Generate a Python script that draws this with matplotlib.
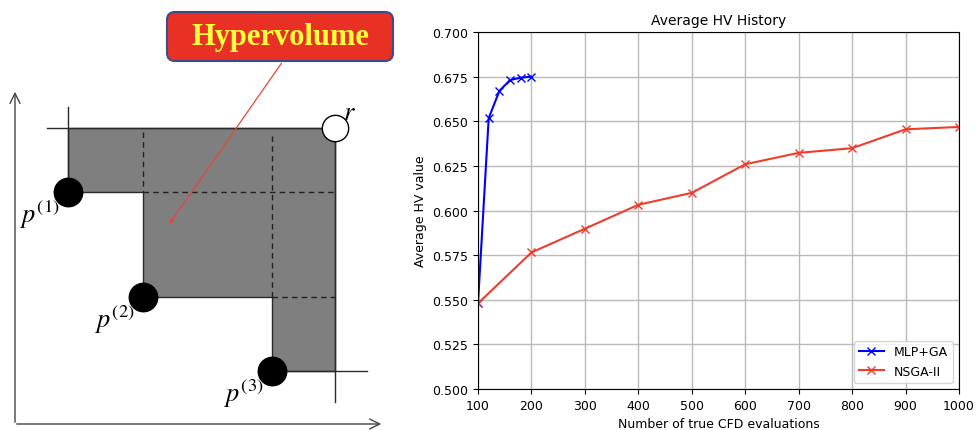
import numpy as np
import matplotlib.pyplot as plt
from matplotlib.patches import Polygon, FancyBboxPatch

plt.rcParams['mathtext.fontset'] = 'stix'

# HV history data
mlp_evals = [100, 120, 140, 160, 180, 200]
mlp_hv = [0.548, 0.6517, 0.667, 0.6731, 0.6744, 0.675]
nsga_evals = [100, 200, 300, 400, 500, 600, 700, 800, 900, 1000]
nsga_hv = [0.548, 0.5765, 0.5898, 0.6032, 0.6099, 0.6259, 0.6323, 0.6349, 0.6455, 0.6468]

# Hypervolume sketch (diagram coords, y grows downward)
pareto_x = [68, 143, 272]
pareto_y = [193, 298, 372]
ref_x, ref_y = 335, 129

fig = plt.figure(figsize=(9.78, 4.31), dpi=100)

# ---- left: hypervolume illustration ----
axd = fig.add_axes([0, 0, 400 / 978, 1])
axd.set_xlim(0, 400)
axd.set_ylim(431, 0)
axd.axis('off')

# staircase region dominated by the pareto points
poly = [(pareto_x[0], ref_y), (ref_x, ref_y), (ref_x, pareto_y[-1])]
for i in range(len(pareto_x) - 1, -1, -1):
    poly.append((pareto_x[i], pareto_y[i]))
    if i > 0:
        poly.append((pareto_x[i], pareto_y[i - 1]))
axd.add_patch(Polygon(poly, closed=True, facecolor='#7f7f7f', edgecolor='#2a2a2a', lw=1.0, zorder=1))

# extended solid lines
axd.plot([47, ref_x], [ref_y, ref_y], color='#2a2a2a', lw=1.0, zorder=2)
axd.plot([pareto_x[0], pareto_x[0]], [108, pareto_y[0]], color='#2a2a2a', lw=1.0, zorder=2)
axd.plot([ref_x, ref_x], [ref_y, 403], color='#2a2a2a', lw=1.0, zorder=2)
axd.plot([pareto_x[-1], 367], [pareto_y[-1], pareto_y[-1]], color='#2a2a2a', lw=1.0, zorder=2)

# dashed partition lines
dash = (0, (4, 3))
axd.plot([pareto_x[1], pareto_x[1]], [133, pareto_y[0]], color='#222222', lw=1.0, ls=dash, zorder=2)
axd.plot([pareto_x[2], pareto_x[2]], [137, pareto_y[1]], color='#222222', lw=1.0, ls=dash, zorder=2)
axd.plot([pareto_x[1], ref_x], [pareto_y[0], pareto_y[0]], color='#222222', lw=1.0, ls=dash, zorder=2)
axd.plot([pareto_x[2], ref_x], [pareto_y[1], pareto_y[1]], color='#222222', lw=1.0, ls=dash, zorder=2)

# coordinate axes
axd.annotate('', xy=(15, 90), xytext=(15, 426),
             arrowprops=dict(arrowstyle='->', color='#444444', lw=1.0, mutation_scale=18))
axd.annotate('', xy=(384, 425), xytext=(14, 425),
             arrowprops=dict(arrowstyle='->', color='#444444', lw=1.0, mutation_scale=18))

# points
axd.scatter(pareto_x, pareto_y, s=420, color='black', zorder=4)
axd.scatter([ref_x], [ref_y], s=360, facecolor='white', edgecolor='black', lw=1.0, zorder=4)

for i, (px, py) in enumerate(zip(pareto_x, pareto_y)):
    axd.text(px - 8, py + 22, r'$p^{(%d)}$' % (i + 1), fontsize=19, ha='right', va='center', zorder=5)
axd.text(ref_x + 8, ref_y - 16, r'$r$', fontsize=19, ha='left', va='center', zorder=5)

# label box and pointer
axd.add_patch(FancyBboxPatch((167, 13), 226, 49, boxstyle='round,pad=0,rounding_size=8',
                             facecolor='#e83025', edgecolor='#3b4c8c', lw=1.5, zorder=5))
axd.text(280, 38, 'Hypervolume', fontsize=22, fontweight='bold', family='Liberation Serif',
         color='#ffff3c', ha='center', va='center', zorder=6)
axd.annotate('', xy=(168, 227), xytext=(283, 62),
             arrowprops=dict(arrowstyle='-|>', color='#e8463a', lw=0.9, mutation_scale=6), zorder=6)

# ---- right: average HV history ----
ax = fig.add_axes([478 / 978, 1 - 390 / 431, (959 - 478) / 978, (390 - 33) / 431])
ax.plot(mlp_evals, mlp_hv, color='#0000ff', marker='x', markersize=6, lw=1.5, label='MLP+GA')
ax.plot(nsga_evals, nsga_hv, color='#f03c2c', marker='x', markersize=6, lw=1.5, label='NSGA-II')
ax.set_xlim(100, 1000)
ax.set_ylim(0.5, 0.7)
ax.set_xticks(np.arange(100, 1001, 100))
ax.set_yticks(np.arange(0.5, 0.7001, 0.025))
ax.yaxis.set_major_formatter(plt.FormatStrFormatter('%.3f'))
ax.tick_params(labelsize=9)
ax.grid(True, color='#bbbbbb', lw=1.0)
ax.set_title('Average HV History', fontsize=10)
ax.set_xlabel('Number of true CFD evaluations', fontsize=9)
ax.set_ylabel('Average HV value', fontsize=9)
ax.legend(loc='lower right', fontsize=9)

plt.savefig('out.png', dpi=100)
